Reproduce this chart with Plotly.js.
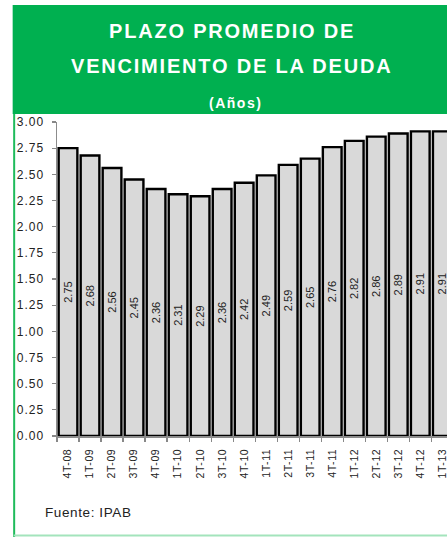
<!DOCTYPE html>
<html>
<head>
<meta charset="utf-8">
<script src="https://cdn.plot.ly/plotly-3.0.1.min.js"></script>
<style>
  html, body { margin: 0; padding: 0; background: #fff; }
  #chart { width: 447px; height: 537px; }
  .ytick text { letter-spacing: 1px; }
  .xtick text { letter-spacing: 0.6px; }
</style>
</head>
<body>
<div id="chart"></div>
<script>
// ---- data ----
const categories = ["4T-08","1T-09","2T-09","3T-09","4T-09","1T-10","2T-10","3T-10","4T-10",
                    "1T-11","2T-11","3T-11","4T-11","1T-12","2T-12","3T-12","4T-12","1T-13"];
const plazo = [2.75, 2.68, 2.56, 2.45, 2.36, 2.31, 2.29, 2.36, 2.42,
               2.49, 2.59, 2.65, 2.76, 2.82, 2.86, 2.89, 2.91, 2.91];
const yTickVals = [0, 0.25, 0.5, 0.75, 1, 1.25, 1.5, 1.75, 2, 2.25, 2.5, 2.75, 3];
const titleLine1 = "PLAZO PROMEDIO DE";
const titleLine2 = "VENCIMIENTO DE LA DEUDA";
const subtitle = "(Años)";
const source = "Fuente: IPAB";

// ---- layout geometry (pixels) ----
const W = 447, H = 537;
const plotL = 57.3, plotR = 447, plotT = 122, plotB = 436;
const px = v => (v - plotL) / (plotR - plotL);
const py = v => (plotB - v) / (plotB - plotT);
const catStep = 22;
const xMax = -0.5 + (plotR - plotL) / catStep;

const trace = {
  type: 'bar',
  x: categories,
  y: plazo,
  marker: { color: '#D9D9D9', line: { color: '#000000', width: 2.4 } },
  texttemplate: '%{y:.2f}',
  textposition: 'inside',
  insidetextanchor: 'middle',
  textangle: -90,
  constraintext: 'none',
  textfont: { family: 'Liberation Sans, Arial, sans-serif', size: 11, color: '#222' },
  hoverinfo: 'skip'
};

const green = '#00B050';
const layout = {
  width: W, height: H,
  margin: { l: plotL, r: W - plotR, t: plotT, b: H - plotB, pad: 0 },
  paper_bgcolor: '#ffffff',
  plot_bgcolor: '#ffffff',
  showlegend: false,
  bargap: 0.15,
  font: { family: 'Liberation Sans, Arial, sans-serif', color: '#222' },
  xaxis: {
    type: 'category',
    range: [-0.5, xMax],
    tickson: 'boundaries',
    ticks: 'outside', ticklen: 4, tickcolor: '#888', tickwidth: 1.2,
    showline: true, linecolor: '#8c8c8c', linewidth: 1.5,
    showgrid: false, zeroline: false,
    tickangle: -90,
    tickfont: { size: 10.5, color: '#222' },
    ticklabelstandoff: 7,
    layer: 'above traces',
    fixedrange: true
  },
  yaxis: {
    range: [0, 3],
    tickvals: yTickVals,
    tickformat: '.2f',
    ticks: 'outside', ticklen: 4, tickcolor: '#888', tickwidth: 1.2,
    showline: true, linecolor: '#8c8c8c', linewidth: 1.5,
    showgrid: false, zeroline: false,
    tickfont: { size: 12, color: '#222' },
    ticklabelstandoff: 5,
    layer: 'below traces',
    fixedrange: true
  },
  shapes: [
    { type: 'rect', xref: 'paper', yref: 'paper', layer: 'below',
      x0: px(13), x1: px(449), y0: py(114), y1: py(5),
      fillcolor: green, line: { width: 0 } },
    { type: 'line', xref: 'paper', yref: 'paper',
      x0: px(14.5), x1: px(14.5), y0: py(114), y1: py(537),
      line: { color: '#1fbb5b', width: 2 } },
    { type: 'line', xref: 'paper', yref: 'paper',
      x0: px(14), x1: px(449), y0: py(535.5), y1: py(535.5),
      line: { color: '#a3e4bc', width: 2 } }
  ],
  annotations: [
    { xref: 'paper', yref: 'paper', x: px(232), y: py(31), xanchor: 'center', yanchor: 'middle',
      showarrow: false,
      text: '<span style="letter-spacing:1.8px"><b>' + titleLine1 + '</b></span>',
      font: { family: 'Liberation Sans, Arial, sans-serif', size: 20, color: '#ffffff' } },
    { xref: 'paper', yref: 'paper', x: px(232), y: py(66), xanchor: 'center', yanchor: 'middle',
      showarrow: false,
      text: '<span style="letter-spacing:1.8px"><b>' + titleLine2 + '</b></span>',
      font: { family: 'Liberation Sans, Arial, sans-serif', size: 20, color: '#ffffff' } },
    { xref: 'paper', yref: 'paper', x: px(236), y: py(103), xanchor: 'center', yanchor: 'middle',
      showarrow: false,
      text: '<span style="letter-spacing:1.5px"><b>' + subtitle + '</b></span>',
      font: { family: 'Liberation Sans, Arial, sans-serif', size: 14, color: '#ffffff' } },
    { xref: 'paper', yref: 'paper', x: px(43), y: py(512), xanchor: 'left', yanchor: 'middle',
      showarrow: false,
      text: '<span style="letter-spacing:0.6px">' + source + '</span>',
      font: { family: 'Liberation Sans, Arial, sans-serif', size: 13.5, color: '#222' } }
  ]
};

Plotly.newPlot('chart', [trace], layout, { displayModeBar: false, staticPlot: true });
</script>
</body>
</html>
